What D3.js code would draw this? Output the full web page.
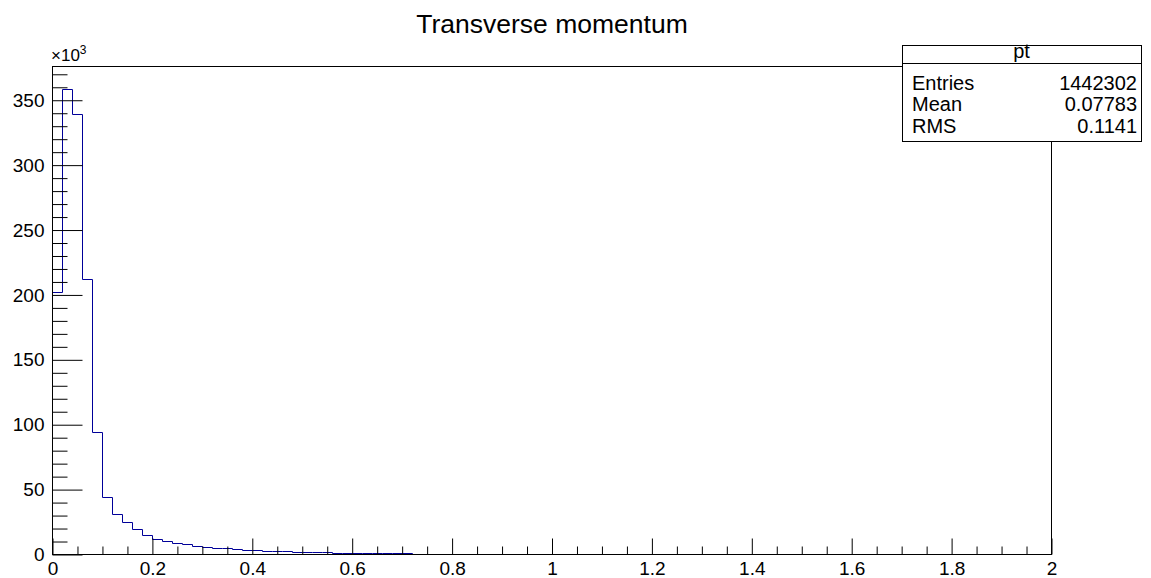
<!DOCTYPE html>
<html>
<head>
<meta charset="utf-8">
<script src="https://cdn.jsdelivr.net/npm/d3@7/dist/d3.min.js"></script>
<style>
  html, body { margin: 0; padding: 0; background: #fff; }
  svg { display: block; }
  text { font-family: "Liberation Sans", Arial, Helvetica, sans-serif; fill: #000; }
</style>
</head>
<body>
<svg id="chart" width="1151" height="578"></svg>
<script>
// Histogram of pt: 100 bins of width 0.02 over [0, 2], contents in units of 10^3 entries
const binLow = 0, binHigh = 2, binWidth = 0.02;
const counts = [
  202, 358, 339, 212, 94, 44, 31, 25, 19.5, 14.7,
  11.8, 10.1, 8.6, 7.6, 6.5, 5.6, 4.9, 4.4, 3.7, 3.2,
  2.9, 2.4, 2.2, 2.0, 1.7, 1.6, 1.5, 1.4, 0.9, 0.85,
  0.8, 0.75, 0.7, 0.65, 0.6, 0.55
];
const xMajorTicks = [0, 0.2, 0.4, 0.6, 0.8, 1, 1.2, 1.4, 1.6, 1.8, 2];
const xTickLabels = ["0", "0.2", "0.4", "0.6", "0.8", "1", "1.2", "1.4", "1.6", "1.8", "2"];
const yMajorTicks = [0, 50, 100, 150, 200, 250, 300, 350];
const yTickLabels = ["0", "50", "100", "150", "200", "250", "300", "350"];
const statNames = ["Entries", "Mean", "RMS"];
const statValues = ["1442302", "0.07783", "0.1141"];
const histName = "pt";
const titleText = "Transverse momentum";

const svg = d3.select("#chart");
const frame = { left: 52, right: 1051, top: 66, bottom: 554 };
const yMax = 376;

const x = d3.scaleLinear().domain([binLow, binHigh]).range([frame.left, frame.right]);
const y = d3.scaleLinear().domain([0, yMax]).range([frame.bottom, frame.top]);

// Full set of bins, empty past the listed contents
const nBins = Math.round((binHigh - binLow) / binWidth);
const bins = d3.range(nBins).map(i => ({ x0: binLow + i * binWidth, v: i < counts.length ? counts[i] : 0 }));

// Histogram outline
const stepPts = bins.map(b => [b.x0, b.v]);
stepPts.push([binHigh, bins[nBins - 1].v]);
const line = d3.line()
  .x(d => Math.round(x(d[0])) + 0.5)
  .y(d => Math.round(y(d[1])) + 0.5)
  .curve(d3.curveStepAfter);
svg.append("path")
  .attr("d", line(stepPts))
  .attr("fill", "none")
  .attr("stroke", "#000099")
  .attr("stroke-width", 1);

// Frame, drawn over the outline
svg.append("rect")
  .attr("x", frame.left + 0.5).attr("y", frame.top + 0.5)
  .attr("width", frame.right - frame.left).attr("height", frame.bottom - frame.top)
  .attr("fill", "none").attr("stroke", "#000").attr("stroke-width", 1);

// Axes with inward ticks
const tickFont = "19px";
function styleAxis(g) {
  g.select(".domain").remove();
  g.selectAll(".tick line").attr("stroke", "#000").attr("stroke-width", 1);
  g.selectAll(".tick text")
    .style("font-family", "'Liberation Sans', Arial, Helvetica, sans-serif")
    .style("font-size", tickFont).attr("fill", "#000");
}

const xMinor = d3.range(0, 41).map(i => i * 0.05).filter(v => Math.abs(v / 0.2 - Math.round(v / 0.2)) > 1e-6);
svg.append("g")
  .attr("transform", `translate(0.5,${frame.bottom + 0.5})`)
  .call(d3.axisBottom(x).tickValues(xMinor).tickSize(-8).tickFormat(""))
  .call(styleAxis);
svg.append("g")
  .attr("transform", `translate(0.5,${frame.bottom + 0.5})`)
  .call(d3.axisBottom(x).tickValues(xMajorTicks).tickSize(-16).tickPadding(7)
    .tickFormat((d, i) => xTickLabels[i]))
  .call(styleAxis);

const yMinor = d3.range(0, 38).map(i => i * 10).filter(v => v % 50 !== 0 && v < yMax);
svg.append("g")
  .attr("transform", `translate(${frame.left + 0.5},0.5)`)
  .call(d3.axisLeft(y).tickValues(yMinor).tickSize(-15).tickFormat(""))
  .call(styleAxis);
svg.append("g")
  .attr("transform", `translate(${frame.left + 0.5},0.5)`)
  .call(d3.axisLeft(y).tickValues(yMajorTicks).tickSize(-30).tickPadding(8)
    .tickFormat((d, i) => yTickLabels[i]))
  .call(styleAxis);

// Exponent marker for the y axis
const expo = svg.append("text").attr("x", frame.left - 1).attr("y", 61).style("font-size", "17px");
expo.append("tspan").text("\u00d710");
expo.append("tspan").attr("dy", -7).style("font-size", "12px").text("3");

// Title
svg.append("text")
  .attr("x", 552).attr("y", 33)
  .attr("text-anchor", "middle")
  .style("font-size", "26.5px")
  .text(titleText);

// Statistics box
const box = { left: 902, right: 1141, top: 45, bottom: 141, header: 63 };
const statFont = "20px";
svg.append("rect")
  .attr("x", box.left + 0.5).attr("y", box.top + 0.5)
  .attr("width", box.right - box.left).attr("height", box.bottom - box.top)
  .attr("fill", "#fff").attr("stroke", "#000").attr("stroke-width", 1);
svg.append("line")
  .attr("x1", box.left).attr("x2", box.right)
  .attr("y1", box.header + 0.5).attr("y2", box.header + 0.5)
  .attr("stroke", "#000").attr("stroke-width", 1);
svg.append("text")
  .attr("x", (box.left + box.right) / 2).attr("y", 58)
  .attr("text-anchor", "middle").style("font-size", statFont)
  .text(histName);
statNames.forEach((name, i) => {
  const yy = 89.5 + i * 21.6;
  svg.append("text").attr("x", box.left + 10).attr("y", yy).style("font-size", statFont).text(name);
  svg.append("text").attr("x", box.right - 4).attr("y", yy).attr("text-anchor", "end")
    .style("font-size", statFont).text(statValues[i]);
});
</script>
</body>
</html>
